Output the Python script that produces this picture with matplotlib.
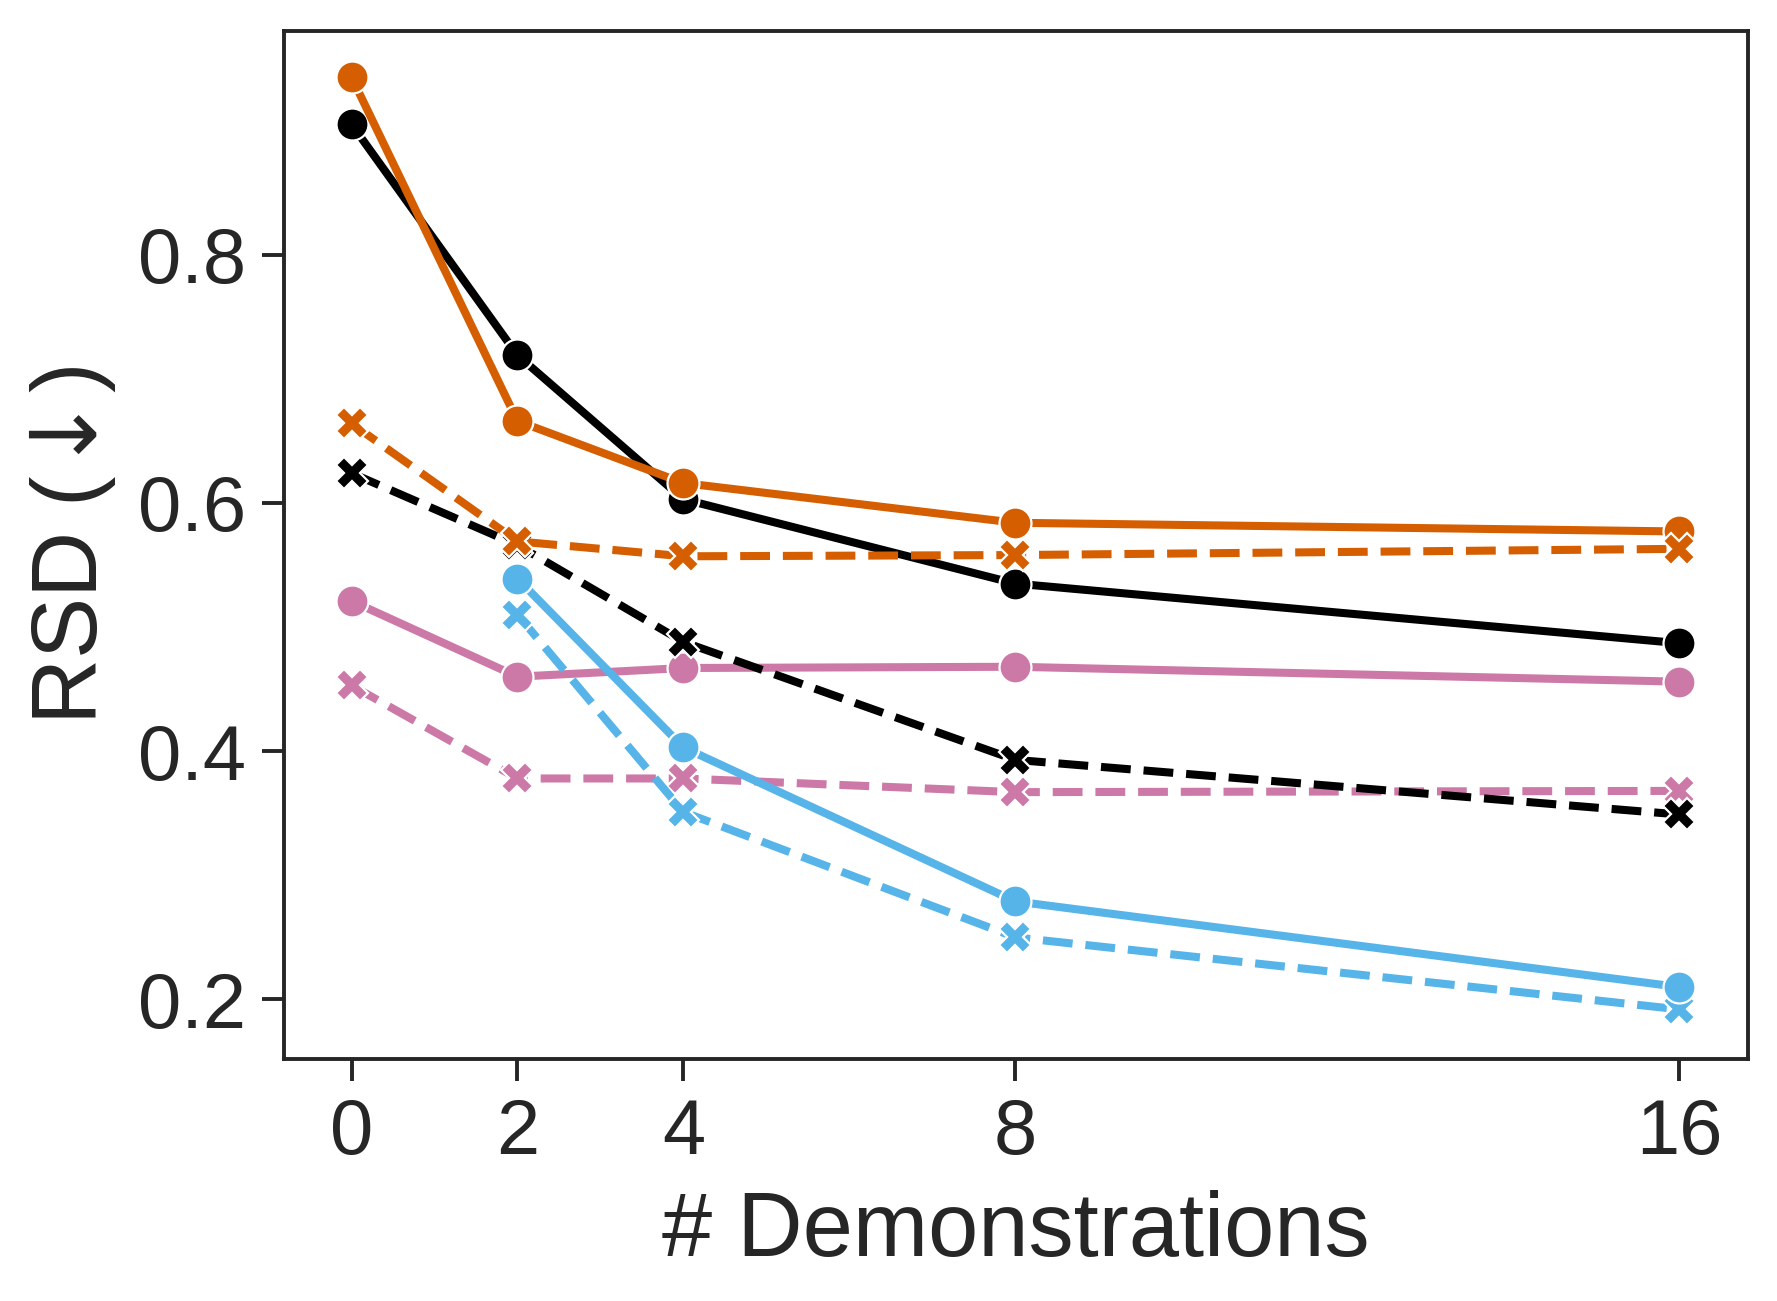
import matplotlib
matplotlib.use("Agg")
import matplotlib.pyplot as plt

demos = [0, 2, 4, 8, 16]
demos_blue = [2, 4, 8, 16]

black_solid = [0.905, 0.719, 0.603, 0.535, 0.487]
black_dashed = [0.624, 0.566, 0.488, 0.393, 0.349]
orange_solid = [0.943, 0.666, 0.616, 0.584, 0.577]
orange_dashed = [0.664, 0.569, 0.557, 0.558, 0.563]
pink_solid = [0.521, 0.460, 0.467, 0.468, 0.456]
pink_dashed = [0.453, 0.378, 0.378, 0.367, 0.368]
blue_solid = [0.539, 0.403, 0.279, 0.210]
blue_dashed = [0.510, 0.351, 0.250, 0.192]

xticks = [0, 2, 4, 8, 16]
yticks = [0.2, 0.4, 0.6, 0.8]

BLACK = "#000000"
ORANGE = "#D55E00"
BLUE = "#56B4E9"
PINK = "#CC79A7"
TXT = "#262626"

plt.rcParams['font.family'] = ['Liberation Sans', 'DejaVu Sans']
plt.rcParams['mathtext.fontset'] = 'dejavusans'

fig = plt.figure(figsize=(8.885, 6.505), dpi=200)
ax = fig.add_axes([0.160, 0.186, 0.8237, 0.790])

lw = 2.9
ms = 11.5
common = dict(lw=lw, ms=ms, mec='white', mew=0.8)

series = [
    (demos, pink_dashed, PINK, '--', 'X'),
    (demos, pink_solid, PINK, '-', 'o'),
    (demos_blue, blue_dashed, BLUE, '--', 'X'),
    (demos_blue, blue_solid, BLUE, '-', 'o'),
    (demos, black_solid, BLACK, '-', 'o'),
    (demos, black_dashed, BLACK, '--', 'X'),
    (demos, orange_solid, ORANGE, '-', 'o'),
    (demos, orange_dashed, ORANGE, '--', 'X'),
]
for xs, ys, c, ls, mk in series:
    ax.plot(xs, ys, color=c, ls=ls, marker=mk, **common)

ax.set_xlim(-0.81, 16.83)
ax.set_ylim(0.152, 0.980)
ax.set_xticks(xticks)
ax.set_xticklabels([str(t) for t in xticks])
ax.set_yticks(yticks)
ax.set_yticklabels([f"{t:.1f}" for t in yticks])

for s in ax.spines.values():
    s.set_linewidth(1.4)
    s.set_color(TXT)
ax.tick_params(axis='both', length=7.8, width=1.4, color=TXT,
               labelsize=28, labelcolor=TXT, pad=6)

ax.set_xlabel("# Demonstrations", fontsize=32.5, color=TXT, labelpad=7)
ax.set_ylabel("RSD ($\\!\\downarrow\\!$)", fontsize=33, color=TXT, labelpad=7)

fig.savefig("out.png", dpi=200)
